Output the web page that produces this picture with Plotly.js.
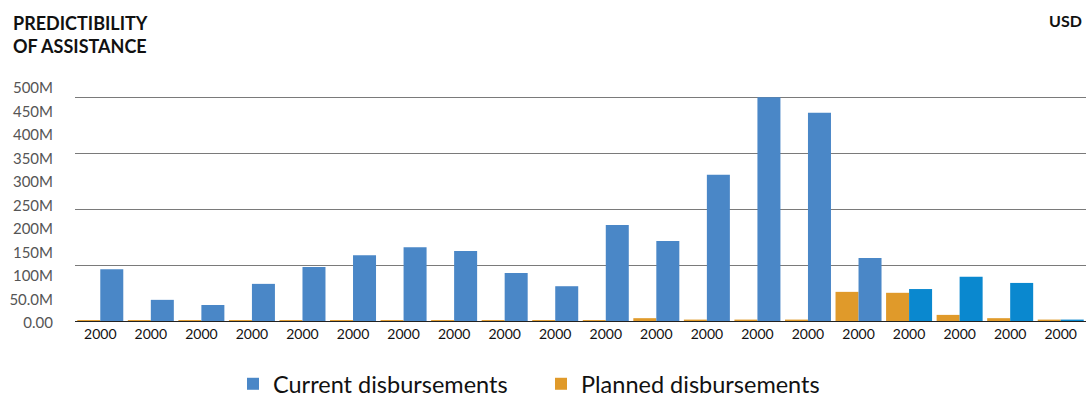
<!DOCTYPE html>
<html>
<head>
<meta charset="utf-8">
<script src="https://cdn.plot.ly/plotly-3.0.1.min.js"></script>
<style>html,body{margin:0;padding:0;background:#fff;}#chart{width:1089px;height:394px;}</style>
</head>
<body>
<div id="chart"></div>
<script>
// Category tick labels (all shown as "2000" in the original)
const yearLabels = ["2000","2000","2000","2000","2000","2000","2000","2000","2000","2000",
                    "2000","2000","2000","2000","2000","2000","2000","2000","2000","2000"];
// Values in millions USD
const currentDisbursements = [110, 45, 34, 79, 115, 140, 157, 149, 102, 74,
                              204, 170, 311, 476, 443, 134, 68, 94, 81, 3];
const plannedDisbursements = [2, 2, 2, 2, 2, 2, 2, 2, 2, 2,
                              2, 6, 3, 3, 3, 62, 60, 13, 6, 3];
const yTickValues = [0, 50, 100, 150, 200, 250, 300, 350, 400, 450, 500];
const yTickLabels = ["0.00", "50.0M", "100M", "150M", "200M", "250M", "300M", "350M", "400M", "450M", "500M"];

const idx = yearLabels.map((_, i) => i);
const currentColors = currentDisbursements.map((_, i) => i < 16 ? "#4a87c7" : "#0a88cf");

const traces = [
  {
    type: "bar", name: "Planned disbursements", x: idx, y: plannedDisbursements,
    marker: {color: "#e09a2a"}, hoverinfo: "skip", legend: "legend2"
  },
  {
    type: "bar", name: "Current disbursements", x: idx, y: currentDisbursements,
    marker: {color: currentColors}, hoverinfo: "skip", legend: "legend"
  }
];

const PW = 1011, PH = 235;
const legendFont = {size: 23.5, color: "#111"};

const layout = {
  width: 1089, height: 394,
  margin: {l: 75, r: 3, t: 86, b: 73, autoexpand: false},
  paper_bgcolor: "#fff", plot_bgcolor: "#fff",
  barmode: "group", bargap: 0.09, bargroupgap: 0,
  font: {family: "Lato, 'Open Sans', sans-serif"},
  showlegend: true,
  legend: {
    orientation: "h", x: (233 - 75) / PW, xanchor: "left", y: -63/PH, yanchor: "middle",
    font: legendFont, bgcolor: "rgba(0,0,0,0)"
  },
  legend2: {
    orientation: "h", x: (541 - 75) / PW, xanchor: "left", y: -63/PH, yanchor: "middle",
    font: legendFont, bgcolor: "rgba(0,0,0,0)"
  },
  xaxis: {
    range: [-0.5, 19.5], tickvals: idx, ticktext: yearLabels,
    showgrid: false, zeroline: false, showline: true, linecolor: "#222", linewidth: 1,
    tickfont: {size: 14, color: "#111"}, ticks: "", fixedrange: true
  },
  yaxis: {
    range: [0, 500], tickvals: yTickValues, ticktext: yTickLabels,
    showgrid: false, zeroline: false, showline: false,
    ticks: "outside", ticklen: 18, tickcolor: "rgba(0,0,0,0)",
    ticklabelshift: 2,
    tickfont: {size: 15, color: "#555"}, fixedrange: true
  },
  yaxis2: {
    overlaying: "y", range: [0, 4 * 235 / 224], dtick: 1,
    showgrid: true, gridcolor: "#7a7a7a", gridwidth: 1,
    zeroline: false, showticklabels: false, ticks: "", fixedrange: true
  },
  annotations: [
    {text: "PREDICTIBILITY<br>OF ASSISTANCE", xref: "paper", yref: "paper",
     x: -64/PW, xanchor: "left", y: 1 + 86/PH - 10/PH, yanchor: "top", align: "left",
     showarrow: false, font: {size: 18, color: "#111", family: "Lato, sans-serif", weight: 700}},
    {text: "USD", xref: "paper", yref: "paper",
     x: 1 - 2/PW, xanchor: "right", y: 1 + 86/PH - 9/PH, yanchor: "top",
     showarrow: false, font: {size: 16, color: "#111", family: "Lato, sans-serif", weight: 700}}
  ]
};

// invisible point on yaxis2 so the overlay axis draws its grid
traces.push({type: "scatter", x: [0], y: [0], yaxis: "y2", mode: "markers",
             marker: {opacity: 0}, showlegend: false, hoverinfo: "skip"});

Plotly.newPlot("chart", traces, layout, {displayModeBar: false, staticPlot: true});
</script>
</body>
</html>
